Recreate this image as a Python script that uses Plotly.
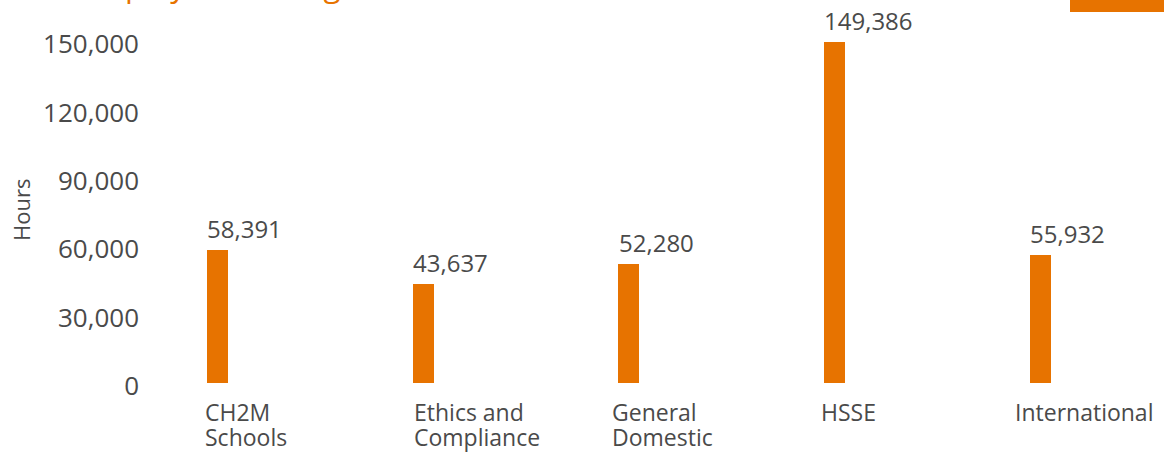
import plotly.graph_objects as go

categories = ["CH2M<br>Schools", "Ethics and<br>Compliance", "General<br>Domestic", "HSSE", "International"]
hours = [58391, 43637, 52280, 149386, 55932]
y_ticks = [0, 30000, 60000, 90000, 120000, 150000]
title_text = "Employee training hours"

ORANGE = "#E77300"
GREY = "#4a4a4a"
FONT = "Open Sans"

# layout geometry (pixels)
W, H = 1164, 454
L, R, T, B = 150, 10, 41, 71
label_shift = [-14, -11, -19, -15, -27]

xs = list(range(len(categories)))

fig = go.Figure()
fig.add_trace(go.Bar(
    x=xs, y=hours, width=0.102,
    marker=dict(color=ORANGE, line=dict(width=0)),
    hoverinfo="skip",
))

annotations = []
for i, (c, v) in enumerate(zip(categories, hours)):
    annotations.append(dict(
        x=i, y=v, xref="x", yref="y", text=f"{v:,}",
        xanchor="left", yanchor="bottom", xshift=-12, yshift=3,
        showarrow=False, font=dict(family=FONT, size=24, color=GREY),
    ))
    for j, line in enumerate(c.split("<br>")):
        annotations.append(dict(
            x=i, y=0, xref="x", yref="paper", text=line, align="left",
            xanchor="left", yanchor="top", xshift=label_shift[i],
            yshift=-11 - 25 * j,
            showarrow=False, font=dict(family=FONT, size=23, color=GREY),
        ))

plot_w = W - L - R
plot_h = H - T - B
annotations.append(dict(
    x=(21 - L) / plot_w, y=(H - B - 210) / plot_h, xref="paper", yref="paper",
    text="Hours", textangle=-90, xanchor="center", yanchor="middle",
    showarrow=False, font=dict(family=FONT, size=22, color=GREY),
))
annotations.append(dict(
    x=(77 - L) / plot_w, y=1, xref="paper", yref="paper",
    text=title_text, xanchor="left", yanchor="bottom", yshift=T - 8,
    showarrow=False, font=dict(family=FONT, size=31, color=ORANGE),
))

fig.update_layout(
    width=W, height=H,
    margin=dict(l=L, r=R, t=T, b=B),
    paper_bgcolor="white", plot_bgcolor="white",
    showlegend=False,
    bargap=0,
    annotations=annotations,
    shapes=[dict(
        type="rect", xref="paper", yref="paper",
        x0=(1070 - L) / plot_w, x1=(1170 - L) / plot_w,
        y0=(H - B - 12) / plot_h, y1=(H - B + 5) / plot_h,
        fillcolor=ORANGE, line=dict(width=0),
    )],
    xaxis=dict(
        range=[-0.328, 4.554], showticklabels=False, showgrid=False,
        zeroline=False, showline=False, ticks="",
    ),
    yaxis=dict(
        range=[0, 150000], tickvals=y_ticks,
        ticktext=[f"{t:,}" for t in y_ticks],
        showgrid=False, zeroline=False, showline=False, ticks="",
        ticklabelstandoff=10, ticklabelshift=3,
        tickfont=dict(family=FONT, size=26, color=GREY),
    ),
)

fig.write_html("out.html")
